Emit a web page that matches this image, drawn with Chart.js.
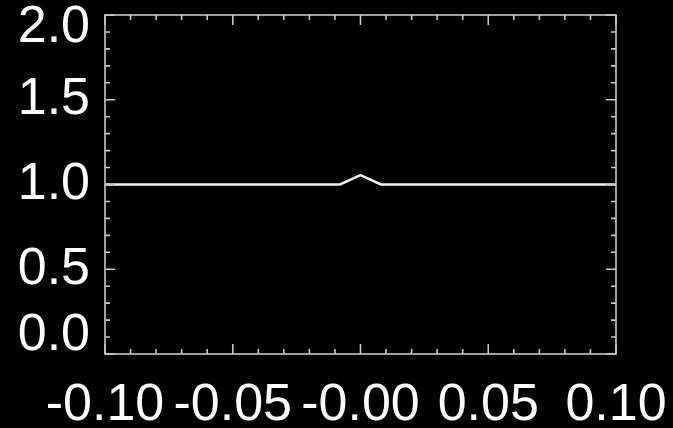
<!DOCTYPE html>
<html>
<head>
<meta charset="utf-8">
<script src="https://cdn.jsdelivr.net/npm/chart.js@4/dist/chart.umd.min.js"></script>
<style>
  html, body { margin: 0; padding: 0; background: #000; }
  #wrap { width: 673px; height: 428px; position: relative; }
</style>
</head>
<body>
<div id="wrap"><canvas id="c" width="673" height="428"></canvas></div>
<script>
// Data
const xValues = [-0.10, -0.008, 0.0, 0.008, 0.10];
const yValues = [1.0, 1.0, 1.055, 1.0, 1.0];
const xTickLabels = ['-0.10', '-0.05', '-0.00', '0.05', '0.10'];
const yTickLabels = ['0.0', '0.5', '1.0', '1.5', '2.0'];

const FONT = "'Liberation Sans', Arial, Helvetica, sans-serif";

const boxTicks = {
  id: 'boxTicks',
  afterDraw(chart) {
    const ctx = chart.ctx;
    const a = chart.chartArea;
    const xs = chart.scales.x, ys = chart.scales.y;
    ctx.save();
    ctx.strokeStyle = '#c8c8c8';
    ctx.lineWidth = 1.6;
    ctx.strokeRect(a.left, a.top, a.right - a.left, a.bottom - a.top);
    ctx.beginPath();
    for (let i = -10; i <= 10; i++) {
      const px = xs.getPixelForValue(i / 100);
      const len = (i % 5 === 0) ? 10 : 5;
      ctx.moveTo(px, a.bottom); ctx.lineTo(px, a.bottom - len);
      ctx.moveTo(px, a.top); ctx.lineTo(px, a.top + len);
    }
    for (let j = 0; j <= 20; j++) {
      const py = ys.getPixelForValue(j / 10);
      const len = (j % 5 === 0) ? 10 : 5;
      ctx.moveTo(a.left, py); ctx.lineTo(a.left + len, py);
      ctx.moveTo(a.right, py); ctx.lineTo(a.right - len, py);
    }
    ctx.stroke();
    ctx.restore();
  }
};

new Chart(document.getElementById('c'), {
  type: 'line',
  data: {
    datasets: [{
      data: xValues.map((x, i) => ({ x: x, y: yValues[i] })),
      borderColor: '#f2f2f2',
      borderWidth: 2.5,
      pointRadius: 0,
      tension: 0,
      fill: false
    }]
  },
  options: {
    responsive: false,
    animation: false,
    layout: { padding: { top: 15, right: 57, left: 0, bottom: 0 } },
    plugins: { legend: { display: false }, tooltip: { enabled: false }, title: { display: false } },
    scales: {
      x: {
        type: 'linear', min: -0.1, max: 0.1,
        grid: { display: false, drawTicks: false },
        border: { display: false },
        afterBuildTicks: (s) => { s.ticks = xTickLabels.map((_, i) => ({ value: -0.1 + i * 0.05 })); },
        afterFit: (s) => { s.height = 74; s.paddingLeft = 0; s.paddingRight = 0; },
        ticks: {
          color: '#ffffff', font: { family: FONT, size: 52 },
          padding: 20, maxRotation: 0, minRotation: 0, autoSkip: false,
          callback: (v, i) => xTickLabels[i]
        }
      },
      y: {
        type: 'linear', min: 0, max: 2,
        grid: { display: false, drawTicks: false },
        border: { display: false },
        afterBuildTicks: (s) => { s.ticks = yTickLabels.map((_, i) => ({ value: i * 0.5 })); },
        afterFit: (s) => { s.width = 105; s.paddingTop = 0; s.paddingBottom = 0; },
        ticks: {
          color: '#ffffff',
          font: (c) => ({
            family: FONT, size: 52,
            lineHeight: c.index === yTickLabels.length - 1 ? 0.4808 : (c.index === 0 ? 0.7115 : 1.2)
          }),
          padding: 15, autoSkip: false,
          callback: (v, i) => i === yTickLabels.length - 1 ? ['', yTickLabels[i]]
                              : (i === 0 ? [yTickLabels[i], ''] : yTickLabels[i])
        }
      }
    }
  },
  plugins: [boxTicks, {
    id: 'bg',
    beforeDraw(chart) {
      const ctx = chart.ctx;
      ctx.save(); ctx.fillStyle = '#000'; ctx.fillRect(0, 0, chart.width, chart.height); ctx.restore();
    }
  }]
});
</script>
</body>
</html>
